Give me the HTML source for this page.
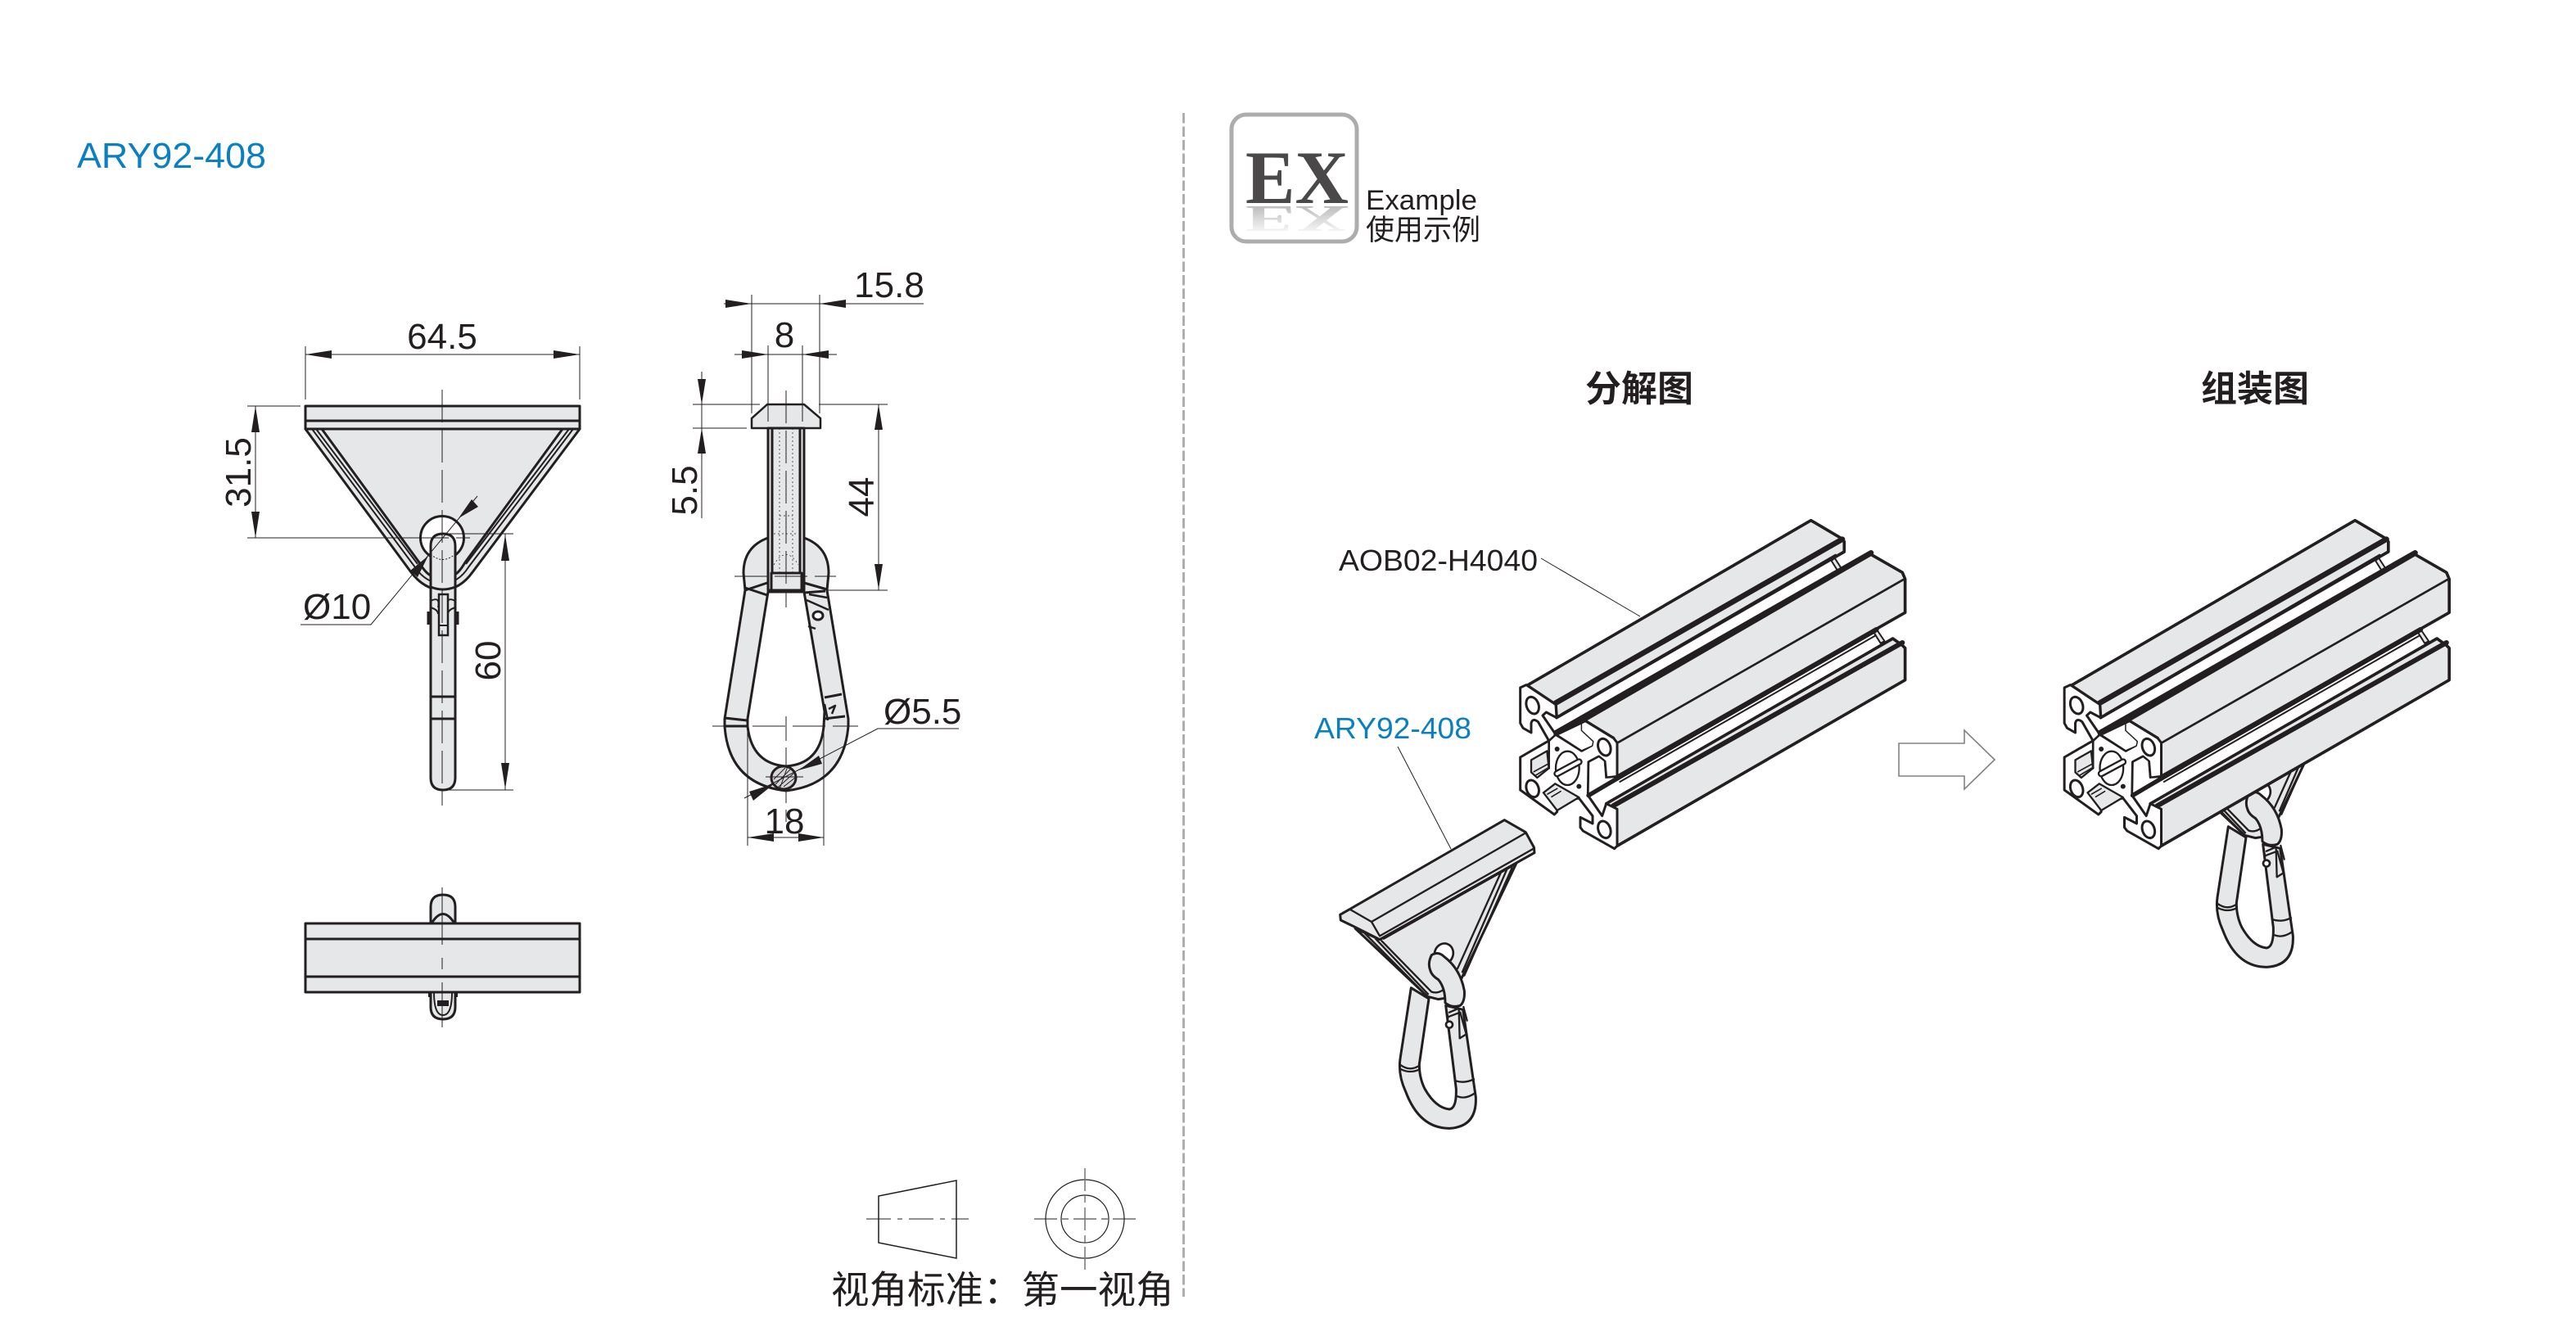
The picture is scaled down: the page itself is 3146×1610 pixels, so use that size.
<!DOCTYPE html>
<html><head><meta charset="utf-8"><style>
html,body{margin:0;padding:0;background:#fff}
svg{display:block}
text{font-family:"Liberation Sans","Noto Sans CJK SC",sans-serif;fill:#231f20}
.t{font-size:44px}
.thin{stroke:#231f20;stroke-width:1;fill:none}
.g{stroke:#231f20;stroke-width:1;fill:none;stroke-dasharray:40 9}
.k{stroke:#231f20;stroke-width:3;fill:#e6e7e8;stroke-linejoin:round}
.l{stroke:#231f20;stroke-width:3;fill:none;stroke-linejoin:round}
.a{fill:#231f20;stroke:none}
.p{stroke:#231f20;stroke-width:11;fill:#e6e7e8;stroke-linejoin:round}
.pw{stroke:#231f20;stroke-width:9;fill:#fff;stroke-linejoin:round}
.pl{stroke:#231f20;stroke-width:8;fill:none;stroke-linejoin:round;stroke-linecap:round}
.c{stroke:#231f20;stroke-width:9;fill:#e6e7e8;stroke-linejoin:round}
.cl{stroke:#231f20;stroke-width:7;fill:none;stroke-linejoin:round;stroke-linecap:round}
</style></head><body>
<svg xmlns="http://www.w3.org/2000/svg" width="3146" height="1610" viewBox="0 0 3146 1610">
<defs>
<linearGradient id="refl" x1="0" y1="0" x2="0" y2="1"><stop offset="0.1" stop-color="#fff"/><stop offset="0.8" stop-color="#bdbdbd"/></linearGradient>
<g id="profile" transform="translate(1820,620) scale(.33333)">
  <polygon fill="#fff" stroke="none" points="243,770 1297,162 1285,228 240,832"/>
  <polygon class="p" points="1262,185 1290,228 1275,235 1250,195" style="stroke-width:6"/>
  <polygon class="p" points="135,652 1175,47 1290,115 1297,125 1297,162 243,770 240,722"/>
  <path class="pl" d="M240,716 L1290,116" style="stroke-width:20"/>
  <path class="pl" d="M262,757 L1265,174" style="stroke-width:8"/>
  <polygon fill="#fff" stroke="none" points="360,1055 1415,447 1445,490 425,1085"/>
  <polygon class="p" points="1418,450 1445,490 1430,497 1405,457" style="stroke-width:6"/>
  <polygon class="p" points="345,780 1395,172 1510,238 1520,262 1520,385 465,985 452,845"/>
  <path class="pl" d="M240,826 L1395,166" style="stroke-width:20"/>
  <path class="pl" d="M470,860 L1512,265"/>
  <polygon class="p" points="425,1085 1475,480 1510,505 1520,515 1520,632 465,1240"/>
  <path class="pl" d="M450,1093 L1510,495" style="stroke-width:18"/>
  <path class="pl" d="M360,1052 L1415,447" style="stroke-width:18"/>
  <path class="pl" d="M475,1005 L1410,470" style="stroke-width:6"/>
  <path class="pw" d="M110,915 L205,860 L215,855 L175,785 Q155,770 150,790 L150,825 L120,808 L110,790 L110,660 L132,650 L240,722 L243,770 L205,750 L192,762 L240,832 L335,892 L372,872 L375,858 L332,818 L332,785 L345,780 L452,845 L465,862 L465,985 L425,990 L420,930 L398,912 L360,932 L358,1055 L410,1130 L425,1085 L465,1105 L465,1240 L455,1250 L340,1185 L330,1172 L330,1135 L375,1158 L375,1130 L325,1065 L245,1080 L245,1115 L235,1125 L110,1035 Z"/>
  <polygon fill="#fff" stroke="none" points="246,830 332,789 332,818 375,858 372,872 335,888"/>
  <polygon fill="#fff" stroke="none" points="364,934 398,916 416,930 421,993 462,990 362,1048"/>
  <path class="pl" d="M240,830 L345,780 M360,1055 L470,990" style="stroke-width:16"/>
  <polygon class="p" points="150,925 208,892 215,955 172,990 150,970" style="stroke-width:7"/>
  <path class="pl" d="M160,968 L215,938 M165,982 L215,952" style="stroke-width:5"/>
  <polygon class="p" points="195,1045 238,1012 325,1062 245,1110" style="stroke-width:7"/>
  <path class="pl" d="M210,1050 L245,1030 M225,1060 L258,1040" style="stroke-width:5"/>
  <ellipse class="pw" cx="155" cy="725" rx="22" ry="32" transform="rotate(-20 155 725)"/>
  <ellipse class="pw" cx="418" cy="878" rx="22" ry="32" transform="rotate(-20 418 878)"/>
  <ellipse class="pw" cx="155" cy="1030" rx="22" ry="32" transform="rotate(-20 155 1030)"/>
  <ellipse class="pw" cx="418" cy="1180" rx="22" ry="32" transform="rotate(-20 418 1180)"/>
  <ellipse class="pw" cx="283" cy="955" rx="43" ry="62" style="stroke-width:7"/>
  <path d="M245,975 L325,932" stroke="#231f20" stroke-width="26" stroke-linecap="round" fill="none"/>
  <path d="M245,975 L325,932" stroke="#fff" stroke-width="12" stroke-linecap="round" fill="none"/>
  <circle cx="245" cy="885" r="9" fill="#231f20"/>
  <circle cx="325" cy="1022" r="9" fill="#231f20"/>
  <path class="pl" d="M215,855 L215,955 M240,832 L215,855"/>
</g>
<g id="conn" transform="translate(1600,980) scale(.33333)">
  <path class="c" fill-rule="evenodd" d="M370,680 L330,940 Q322,1000 350,1060 Q400,1195 510,1195 Q612,1190 607,1080 L560,760 L497,745 L535,1050 Q537,1122 510,1125 Q460,1120 420,1050 Q400,1010 400,960 L435,720 Z"/>
  <path class="cl" d="M330,962 Q365,988 400,965 M332,978 Q365,995 398,980 M530,1020 Q565,1032 600,1015 M540,1078 Q570,1090 605,1065"/>
  <polygon class="c" points="165,462 430,712 470,722 495,718 555,645 755,225 255,503"/>
  <path class="cl" d="M270,500 L720,245 M700,255 L540,610 M720,248 L558,622 M740,240 L565,635"/>
  <path class="cl" d="M262,508 L445,695 Q470,703 495,682 M240,500 L432,703 M200,480 L430,712"/>
  <ellipse cx="490" cy="555" rx="34" ry="38" fill="#fff" stroke="#231f20" stroke-width="8" transform="rotate(20 490 555)"/>
  <path class="c" d="M445,560 Q470,545 490,565 Q550,610 565,690 Q568,730 550,745 Q520,755 495,735 Q495,680 470,650 Q445,635 440,615 Q430,590 445,560 Z"/>
  <path class="cl" d="M497,745 L505,790 M510,770 L545,755 M510,785 L550,770 M545,760 L548,865 L572,850 L550,770 M562,750 L575,800"/>
  <circle cx="510" cy="815" r="12" fill="#fff" stroke="#231f20" stroke-width="8"/>
</g>
</defs>

<rect width="3146" height="1610" fill="#fff"/>
<text x="94" y="205" font-size="44" textLength="231" lengthAdjust="spacingAndGlyphs" style="fill:#0a7fc2">ARY92-408</text>

<!-- front view -->
<rect class="k" x="373" y="496" width="335" height="28"/>
<path class="l" d="M373,514 H708"/>
<path class="k" d="M373,524 L502,699 Q518,720 540,721 Q562,720 577,699 L708,524 Z"/>
<path class="thin" style="stroke-width:2" d="M381,524 L507,693 Q520,712 540,713 Q560,712 572,693 L700,524"/>
<path class="thin" style="stroke-width:2" d="M386,524 L510,689 M695,524 L569,689"/>
<path class="l" d="M393,524 L512,687 Q520,701 528,704 M687,524 L568,687 Q560,701 552,704"/>
<circle cx="540" cy="657" r="26.5" fill="#fff" stroke="#231f20" stroke-width="3"/>
<path class="k" d="M526,667 Q526,652 541,652 Q556,652 556,667 L556,950 Q556,965 541,965 Q526,965 526,950 Z"/>
<path class="l" d="M526,717 Q541,723 556,717 M526,851 H556 M526,878 H556"/>
<path class="l" style="stroke-width:2" d="M526,734 Q538,728 535,742 M556,734 Q544,728 547,742 M526,742 Q535,745 535,750 M556,742 Q547,745 547,750"/>
<rect x="536" y="726" width="11" height="50" fill="#e6e7e8" stroke="#231f20" stroke-width="2.5"/>
<path class="l" style="stroke-width:2" d="M536,764 H547"/>
<rect x="521.5" y="747" width="5" height="16" fill="#231f20"/><rect x="555.5" y="747" width="5" height="16" fill="#231f20"/>
<path class="thin" style="stroke-dasharray:2 2" d="M526,677 Q540,690 556,677"/>
<path class="g" d="M540,476 V984"/>
<path class="g" d="M508,657 H574"/>
<!-- dims front -->
<path class="thin" d="M373,423 V488 M708,423 V488 M373,433 H708"/>
<polygon class="a" points="373,433 405,428 405,438"/><polygon class="a" points="708,433 676,428 676,438"/>
<text class="t" x="540" y="426" text-anchor="middle">64.5</text>
<path class="thin" d="M302,496 H367 M302,657 H508 M312,496 V657"/>
<polygon class="a" points="312,496 307,528 317,528"/><polygon class="a" points="312,657 307,625 317,625"/>
<text class="t" transform="translate(306,577) rotate(-90)" text-anchor="middle">31.5</text>
<path class="thin" d="M540,652 H627 M540,965 H627 M617,652 V965"/>
<polygon class="a" points="617,653 612,685 622,685"/><polygon class="a" points="617,964 612,932 622,932"/>
<text class="t" transform="translate(611,807) rotate(-90)" text-anchor="middle">60</text>
<path class="thin" d="M367,763 H453 L583,606"/>
<polygon class="a" points="560,633 576,610 584,619"/><polygon class="a" points="523,679 501,697 510,705"/>
<text class="t" x="370" y="756">Ø10</text>

<!-- side view -->
<path class="k" fill-rule="evenodd" d="M938,657 Q908,668 908,700 L910,721 L885,878 L885,887 Q890,958 960,966 Q1030,958 1036,887 L1036,878 L1010,721 L1012,700 Q1012,668 982,657 Z M938,723 L913,878 L913,887 Q918,933 960,936 Q1002,933 1006,887 L1007,869 L982,723 Z"/>
<path class="l" d="M910,721 L937,712 M910,718 L937,727 M982,712 L1010,720 M982,724 L1008,722 M885,877 L912,880 M885,887 H913 M1007,852 L1028,848 M1007,878 L1032,875"/>
<path class="l" style="stroke-width:2.5" d="M985,733 L1012,745 M988,726 L1010,730 M1012,866 L1020,862 L1016,872 M1007,860 L1011,880 M987,765 L996,768"/>
<ellipse cx="999" cy="752" rx="6" ry="5" fill="#fff" stroke="#231f20" stroke-width="3"/>
<polygon class="k" points="918,523 918,511 937,494 982,494 1002,511 1002,523" style="stroke-width:2.5"/>
<rect class="k" x="938" y="523" width="44" height="198"/>
<path class="l" d="M943,523 V700 M977,523 V700"/>
<rect class="k" x="942" y="700" width="37" height="21"/>
<path class="thin" style="stroke-dasharray:2 3;stroke-width:.7" d="M952,523 V700 M968,523 V700 M952,630 H968 M945,652 H975 M945,690 Q960,665 975,690"/>
<path class="g" d="M960,477 V742"/>
<path class="g" d="M897,704 H1021"/>
<path class="g" d="M870,887 H1048"/>
<path class="thin" stroke-dasharray="30 8" d="M960,875 V1004"/>
<ellipse cx="957" cy="950" rx="15" ry="14" fill="#d6d6d8" stroke="#231f20" stroke-width="3"/>
<path class="thin" d="M947,958 L965,940 M951,961 L969,945 M945,952 L959,938 M957,961 L971,950"/>
<path class="thin" d="M935,949 L981,949 M962,936 L952,964"/>
<!-- dims side -->
<path class="thin" d="M884,371 H1128 M918,360 V505 M1001,360 V505"/>
<polygon class="a" points="918,371 886,366 886,376"/><polygon class="a" points="1001,371 1033,366 1033,376"/>
<text class="t" x="1086" y="363" text-anchor="middle">15.8</text>
<path class="thin" d="M897,433 H1022 M938,422 V515 M980,422 V515"/>
<polygon class="a" points="938,433 906,428 906,438"/><polygon class="a" points="980,433 1012,428 1012,438"/>
<text class="t" x="958" y="424" text-anchor="middle">8</text>
<path class="thin" d="M846,494 H928 M846,523 H912 M857,454 V633"/>
<polygon class="a" points="857,494 852,463 862,463"/><polygon class="a" points="857,523 852,554 862,554"/>
<text class="t" transform="translate(851,599) rotate(-90)" text-anchor="middle">5.5</text>
<path class="thin" d="M1000,494 H1084 M1010,721 H1084 M1073,494 V721"/>
<polygon class="a" points="1073,494 1068,525 1078,525"/><polygon class="a" points="1073,720 1068,689 1078,689"/>
<text class="t" transform="translate(1067,607) rotate(-90)" text-anchor="middle">44</text>
<path class="thin" d="M1171,890 H1072 L909,975"/>
<polygon class="a" points="975,941 1000,923 1004,933"/><polygon class="a" points="946,957 915,967 920,978"/>
<text class="t" x="1079" y="884">Ø5.5</text>
<path class="thin" d="M913,887 V1033 M1006,887 V1033 M913,1023 H1006"/>
<polygon class="a" points="913,1023 945,1018 945,1028"/><polygon class="a" points="1006,1023 975,1018 975,1028"/>
<text class="t" x="958" y="1018" text-anchor="middle">18</text>

<!-- bottom view -->
<path class="k" d="M526,1128 V1108 Q526,1093 541,1093 Q556,1093 556,1108 V1128"/>
<path class="l" d="M527,1128 Q541,1105 555,1128"/>
<path class="k" d="M526,1212 V1230 Q526,1245 541,1245 Q556,1245 556,1230 V1212"/>
<path class="l" style="stroke-width:2" d="M530,1212 Q530,1240 541,1240 Q552,1240 552,1212"/>
<rect x="523" y="1210" width="4" height="8" fill="#231f20"/><rect x="555" y="1210" width="4" height="8" fill="#231f20"/>
<rect x="534" y="1222" width="14" height="7" fill="#231f20"/>
<rect class="k" x="373" y="1128" width="335" height="84"/>
<path class="l" d="M373,1147 H708 M373,1193 H708"/>
<path class="thin" stroke-dasharray="70 16 14 16" d="M540,1084 V1255"/>

<!-- projection symbol -->
<polygon points="1073,1461 1168,1442 1168,1537 1073,1518" fill="none" stroke="#231f20" stroke-width="1.5"/>
<path class="thin" stroke-dasharray="30 8 6 8" d="M1058,1489 H1183"/>
<circle cx="1325" cy="1489" r="48" fill="none" stroke="#231f20" stroke-width="1.2"/>
<circle cx="1325" cy="1489" r="29" fill="none" stroke="#231f20" stroke-width="1.2"/>
<path class="thin" stroke-dasharray="28 6 8 6" d="M1263,1489 H1387"/>
<path stroke="#777" stroke-width="1.5" fill="none" stroke-dasharray="28 6 8 6" d="M1325,1427 V1552"/>
<text x="1015" y="1592" font-size="46.5">视角标准：第一视角</text>

<!-- divider -->
<path d="M1445.5,138 V1584" stroke="#aaa" stroke-width="2.8" stroke-dasharray="12.5 4" fill="none"/>

<!-- EX icon -->
<rect x="1504" y="140" width="153" height="155" rx="18" fill="#fff" stroke="#adadad" stroke-width="5"/>
<text x="1521" y="248" font-size="92" textLength="126" lengthAdjust="spacingAndGlyphs" style='font-family:"Liberation Serif",serif;font-weight:bold;fill:#4a4848'>EX</text>
<text transform="translate(0,252) scale(1,-.5)" x="1521" y="0" font-size="92" textLength="126" lengthAdjust="spacingAndGlyphs" style='font-family:"Liberation Serif",serif;font-weight:bold;fill:url(#refl)'>EX</text>
<text x="1668" y="256" font-size="34" textLength="136" lengthAdjust="spacingAndGlyphs">Example</text>
<text x="1668" y="293" font-size="35">使用示例</text>

<!-- headings -->
<text x="2002" y="490" font-size="44" font-weight="bold" text-anchor="middle">分解图</text>
<text x="2754" y="490" font-size="44" font-weight="bold" text-anchor="middle">组装图</text>

<!-- labels -->
<text x="1635" y="697" font-size="36" textLength="243" lengthAdjust="spacingAndGlyphs">AOB02-H4040</text>
<path class="thin" d="M1882,682 L2003,753"/>
<text x="1605" y="902" font-size="36" textLength="192" lengthAdjust="spacingAndGlyphs" style="fill:#0a7fc2">ARY92-408</text>
<path class="thin" d="M1707,912 L1772,1037"/>

<!-- exploded -->
<use href="#profile"/>
<use href="#conn"/>
<g transform="translate(1600,980) scale(.33333)">
  <polygon class="c" points="110,412 145,392 712,65 790,110 820,165 822,185 255,503 160,455 112,432"/>
  <path class="cl" d="M145,392 L225,438 L790,112 M225,438 L255,490 L822,168"/>
</g>

<!-- arrow -->
<polygon points="2319,908 2399,908 2399,892 2436,928 2399,964 2399,948 2319,948" fill="#fff" stroke="#808080" stroke-width="1.6"/>

<!-- assembled -->
<g transform="translate(998,-197)"><use href="#conn"/></g>
<g transform="translate(664.5,0)"><use href="#profile"/></g>
</svg>
</body></html>
